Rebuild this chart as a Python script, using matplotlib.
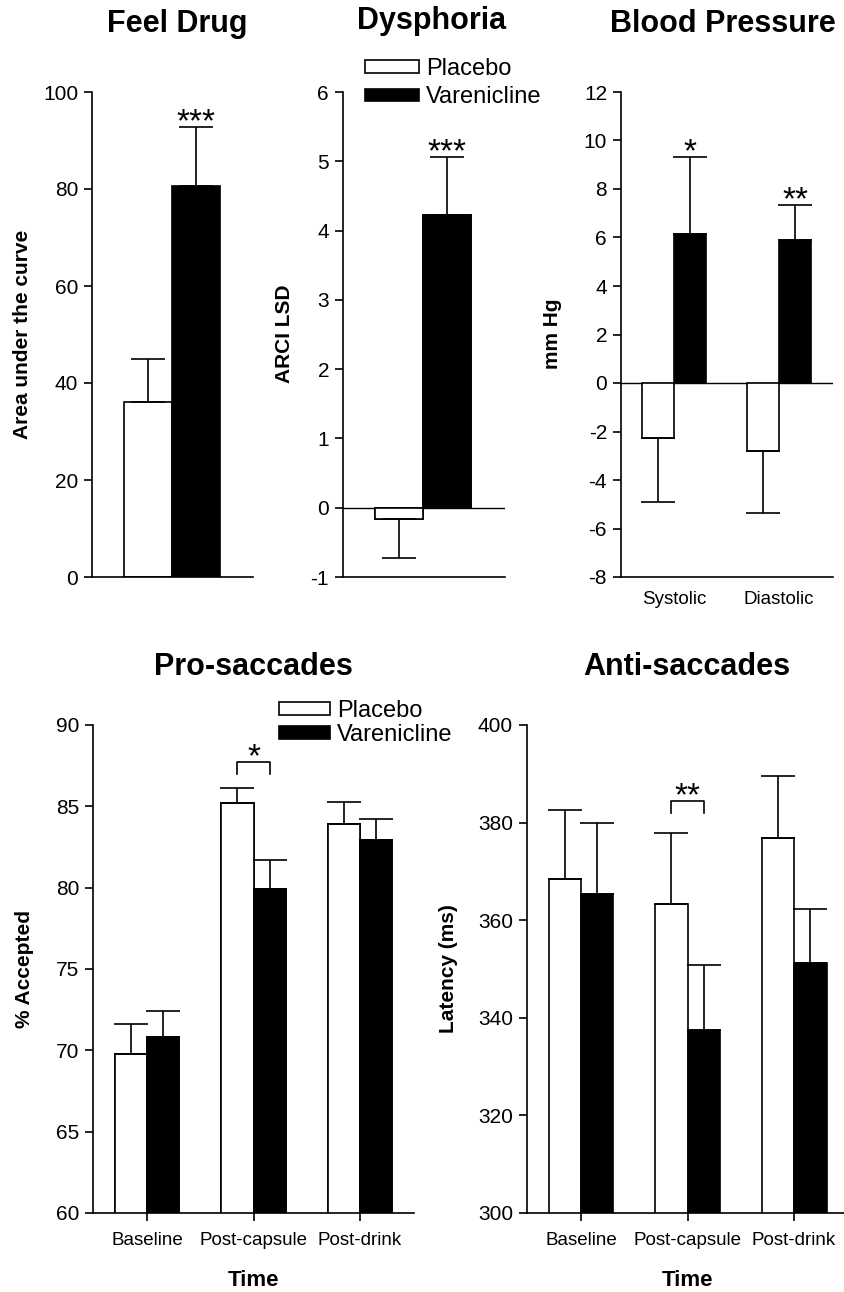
import matplotlib
matplotlib.use("Agg")
import matplotlib.pyplot as plt
import numpy as np

plt.rcParams['font.family'] = ['Liberation Sans', 'DejaVu Sans']
plt.rcParams['axes.unicode_minus'] = False

# ---------------- data ----------------
series = ["Placebo", "Varenicline"]

feel_mean = [36.1, 80.6]
feel_sem = [8.9, 12.2]

dys_mean = [-0.17, 4.23]
dys_sem = [0.56, 0.83]

bp_cats = ["Systolic", "Diastolic"]
bp_placebo = [-2.26, -2.80]
bp_placebo_sem = [2.66, 2.57]
bp_varen = [6.16, 5.91]
bp_varen_sem = [3.16, 1.42]
bp_stars = ["*", "**"]

time_cats = ["Baseline", "Post-capsule", "Post-drink"]
pro_placebo = [69.8, 85.2, 83.9]
pro_placebo_sem = [1.8, 0.9, 1.35]
pro_varen = [70.8, 79.9, 82.95]
pro_varen_sem = [1.6, 1.8, 1.3]
pro_bracket = (1, 87.0, 87.7, "*")

anti_placebo = [368.4, 363.4, 376.9]
anti_placebo_sem = [14.2, 14.4, 12.7]
anti_varen = [365.3, 337.5, 351.2]
anti_varen_sem = [14.7, 13.4, 11.0]
anti_bracket = (1, 382.0, 384.4, "**")

# ---------------- layout ----------------
W, H = 844, 1292
fig = plt.figure(figsize=(W / 100, H / 100), dpi=100)

LW = 1.2
TICK_FS = 15
XT_FS = 13.5
LAB_FS = 15
TITLE_FS = 22
LEG_FS = 17
STAR_FS = 24
STAR_OFF = -3


def make_ax(l, t, r, b):
    return fig.add_axes([l / W, 1 - b / H, (r - l) / W, (b - t) / H])


def style(ax, xticks=False):
    for s in ["top", "right"]:
        ax.spines[s].set_visible(False)
    for s in ["left", "bottom"]:
        ax.spines[s].set_linewidth(LW)
    ax.tick_params(axis="y", direction="out", length=6, width=LW, labelsize=TICK_FS, pad=4)
    if xticks:
        ax.tick_params(axis="x", direction="out", length=6, width=LW, labelsize=XT_FS, pad=8)
    else:
        ax.tick_params(axis="x", length=0, labelsize=XT_FS, pad=10)


def bars(ax, x, vals, sems, face):
    ax.bar(x, vals, width=W_BAR, color=face, edgecolor="black", linewidth=LW, zorder=2)
    vals = np.asarray(vals, float)
    sems = np.asarray(sems, float)
    lower = np.where(vals < 0, sems, 0)
    upper = np.where(vals >= 0, sems, 0)
    ax.errorbar(x, vals, yerr=[lower, upper], fmt="none", ecolor="black",
                elinewidth=LW, capsize=12, capthick=LW, zorder=3)


def star(ax, x, y, s):
    ax.annotate(s, (x, y), xytext=(0, STAR_OFF), textcoords="offset points",
                ha="center", va="baseline", fontsize=STAR_FS,
                annotation_clip=False)


def ylabel_fig(text, x, yc):
    fig.text(x / W, 1 - yc / H, text, rotation=90, ha="center", va="center",
             fontsize=LAB_FS, fontweight="bold")


def title_fig(text, x, y):
    fig.text(x / W, 1 - y / H, text, ha="center", va="center",
             fontsize=TITLE_FS, fontweight="bold")


def legend_at(handles, x, y, hl, spacing):
    fig.legend(handles, series, loc="center left",
               bbox_to_anchor=(x / W, 1 - y / H), frameon=False,
               fontsize=LEG_FS, handlelength=hl / (LEG_FS * 100 / 72),
               handleheight=0.45, handletextpad=0.3, labelspacing=spacing,
               borderpad=0, borderaxespad=0)


# ---- Panel 1: Feel Drug ----
W_BAR = 1.0
ax1 = make_ax(92, 92, 253, 577)
style(ax1)
x_single = np.array([-0.5, 0.5])
bars(ax1, x_single[:1], feel_mean[:1], feel_sem[:1], "white")
bars(ax1, x_single[1:], feel_mean[1:], feel_sem[1:], "black")
ax1.set_xlim(-1.667, 1.6875)
ax1.set_ylim(0, 100)
ax1.set_yticks(np.arange(0, 101, 20))
ax1.set_xticks([])
star(ax1, x_single[1], feel_mean[1] + feel_sem[1], "***")
ylabel_fig("Area under the curve", 23, 334)
title_fig("Feel Drug", 177, 24)

# ---- Panel 2: Dysphoria ----
ax2 = make_ax(343, 92, 505, 577)
style(ax2)
b_p = ax2.bar(x_single[:1], dys_mean[:1], width=W_BAR, color="white", edgecolor="black", linewidth=LW, zorder=2)
bars(ax2, x_single[:1], dys_mean[:1], dys_sem[:1], "white")
b_v = ax2.bar(x_single[1:], dys_mean[1:], width=W_BAR, color="black", edgecolor="black", linewidth=LW, zorder=2)
bars(ax2, x_single[1:], dys_mean[1:], dys_sem[1:], "black")
ax2.axhline(0, color="black", lw=1.0, zorder=1)
ax2.set_xlim(-1.684, 1.726)
ax2.set_ylim(-1, 6)
ax2.set_yticks(np.arange(-1, 7, 1))
ax2.set_xticks([])
star(ax2, x_single[1], dys_mean[1] + dys_sem[1], "***")
ylabel_fig("ARCI LSD", 285, 334)
title_fig("Dysphoria", 432, 21)
legend_at([b_p, b_v], 365, 83, 54, 0.29)

# ---- Panel 3: Blood Pressure ----
W_BAR = 0.305
ax3 = make_ax(621, 92, 833, 577)
style(ax3)
xg = np.arange(len(bp_cats))
bars(ax3, xg - W_BAR / 2, bp_placebo, bp_placebo_sem, "white")
bars(ax3, xg + W_BAR / 2, bp_varen, bp_varen_sem, "black")
ax3.axhline(0, color="black", lw=1.0, zorder=1)
ax3.set_xlim(-0.505, 1.514)
ax3.set_ylim(-8, 12)
ax3.set_yticks(np.arange(-8, 13, 2))
ax3.set_xticks(xg)
ax3.set_xticklabels(bp_cats)
for i, s in enumerate(bp_stars):
    star(ax3, xg[i] + W_BAR / 2, bp_varen[i] + bp_varen_sem[i], s)
ylabel_fig("mm Hg", 553, 334)
title_fig("Blood Pressure", 723, 24)

# ---- Panel 4: Pro-saccades ----
ax4 = make_ax(93, 725, 414, 1213)
style(ax4, xticks=True)
xt = np.arange(len(time_cats))
p4 = ax4.bar(xt - W_BAR / 2, pro_placebo, width=W_BAR, color="white", edgecolor="black", linewidth=LW, zorder=2)
bars(ax4, xt - W_BAR / 2, pro_placebo, pro_placebo_sem, "white")
v4 = ax4.bar(xt + W_BAR / 2, pro_varen, width=W_BAR, color="black", edgecolor="black", linewidth=LW, zorder=2)
bars(ax4, xt + W_BAR / 2, pro_varen, pro_varen_sem, "black")
ax4.set_xlim(-0.507, 2.507)
ax4.set_ylim(60, 90)
ax4.set_yticks(np.arange(60, 91, 5))
ax4.set_xticks(xt)
ax4.set_xticklabels(time_cats)


def bracket(ax, spec):
    g, ylo, yhi, s = spec
    xl, xr = g - W_BAR / 2, g + W_BAR / 2
    ax.plot([xl, xl, xr, xr], [ylo, yhi, yhi, ylo], color="black", lw=LW, clip_on=False)
    star(ax, g, yhi, s)


bracket(ax4, pro_bracket)
ylabel_fig("% Accepted", 25, 969)
title_fig("Pro-saccades", 253, 667)
fig.text(253 / W, 1 - 1281 / H, "Time", ha="center", va="center", fontsize=16, fontweight="bold")
legend_at([p4, v4], 279, 723, 51, 0.08)

# ---- Panel 5: Anti-saccades ----
ax5 = make_ax(527, 725, 844, 1213)
style(ax5, xticks=True)
bars(ax5, xt - W_BAR / 2, anti_placebo, anti_placebo_sem, "white")
bars(ax5, xt + W_BAR / 2, anti_varen, anti_varen_sem, "black")
ax5.set_xlim(-0.507, 2.469)
ax5.set_ylim(300, 400)
ax5.set_yticks(np.arange(300, 401, 20))
ax5.set_xticks(xt)
ax5.set_xticklabels(time_cats)
bracket(ax5, anti_bracket)
ylabel_fig("Latency (ms)", 448, 969)
title_fig("Anti-saccades", 687, 667)
fig.text(687 / W, 1 - 1281 / H, "Time", ha="center", va="center", fontsize=16, fontweight="bold")

fig.savefig("out.png", dpi=100)
